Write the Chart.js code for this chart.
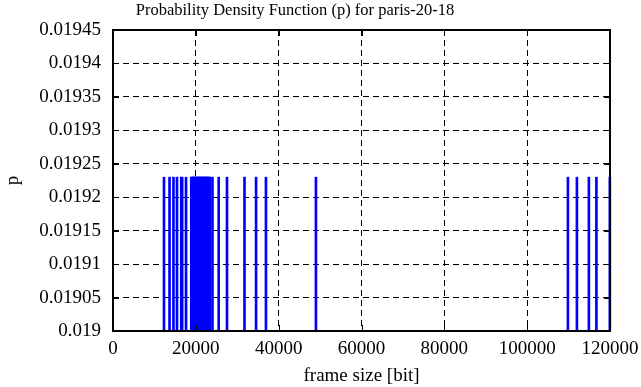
<!DOCTYPE html>
<html>
<head>
<meta charset="utf-8">
<script src="https://cdn.jsdelivr.net/npm/chart.js@4.4.1/dist/chart.umd.min.js"></script>
<style>
html,body{margin:0;padding:0;background:#fff;}
#wrap{width:641px;height:387px;}
</style>
</head>
<body>
<div id="wrap"><canvas id="c" width="641" height="387"></canvas></div>
<script>
const frameSizes = [
  12310, 13650, 14600, 15450, 16480, 16700, 17630,
  18900, 19050, 19210, 19330, 19480, 19620, 19710, 19880, 20040, 20150,
  20290, 20460, 20530, 20700, 20820, 20990, 21130, 21240, 21410, 21560,
  21690, 21800, 21970, 22110, 22250, 22380, 22520, 22640, 22810, 22950,
  23080, 23260, 23410,
  24020, 25520, 27520, 31750, 34540, 36930, 49000,
  109840, 112010, 114900, 116720, 119960
];
const probabilities = [
  0.01923, 0.01923, 0.01923, 0.01923, 0.01923, 0.01923, 0.01923,
  0.01923, 0.01923, 0.01923, 0.01923, 0.01923, 0.01923, 0.01923, 0.01923, 0.01923, 0.01923,
  0.01923, 0.01923, 0.01923, 0.01923, 0.01923, 0.01923, 0.01923, 0.01923, 0.01923, 0.01923,
  0.01923, 0.01923, 0.01923, 0.01923, 0.01923, 0.01923, 0.01923, 0.01923, 0.01923, 0.01923,
  0.01923, 0.01923, 0.01923,
  0.01923, 0.01923, 0.01923, 0.01923, 0.01923, 0.01923, 0.01923,
  0.01923, 0.01923, 0.01923, 0.01923, 0.01923
];
const xTickLabels = ['0', '20000', '40000', '60000', '80000', '100000', '120000'];
const yTickLabels = ['0.019', '0.01905', '0.0191', '0.01915', '0.0192', '0.01925', '0.0193', '0.01935', '0.0194', '0.01945'];

const chartTitle = 'Probability Density Function (p) for paris-20-18';
const xTitle = 'frame size [bit]';
const yTitle = 'p';

const FONT = "'Liberation Serif', 'Times New Roman', serif";

const points = frameSizes.map((x, i) => ({x: x, y: probabilities[i]}));

const frameTicks = {
  id: 'frameTicks',
  afterDraw(chart) {
    const ctx = chart.ctx;
    const a = chart.chartArea;
    const xs = chart.scales.x, ys = chart.scales.y;
    ctx.save();
    ctx.strokeStyle = '#000';
    ctx.lineWidth = 1;
    const L = 6;
    ctx.beginPath();
    xs.ticks.forEach(t => {
      const px = Math.round(xs.getPixelForValue(t.value)) + 0.5;
      ctx.moveTo(px, a.bottom); ctx.lineTo(px, a.bottom - L);
      ctx.moveTo(px, a.top); ctx.lineTo(px, a.top + L);
    });
    ys.ticks.forEach(t => {
      const py = Math.round(ys.getPixelForValue(t.value)) + 0.5;
      ctx.moveTo(a.left, py); ctx.lineTo(a.left + L, py);
      ctx.moveTo(a.right, py); ctx.lineTo(a.right - L, py);
    });
    ctx.stroke();
    ctx.lineWidth = 2;
    ctx.strokeRect(a.left, a.top, a.right - a.left, a.bottom - a.top);
    // chart title
    ctx.fillStyle = '#000';
    ctx.font = "16.5px " + FONT;
    ctx.textAlign = 'center';
    ctx.textBaseline = 'middle';
    ctx.fillText(chartTitle, 295, 11);
    ctx.restore();
  }
};

new Chart(document.getElementById('c'), {
  type: 'bar',
  data: {
    datasets: [{
      data: points,
      base: 0.019,
      backgroundColor: '#0000ff',
      borderWidth: 0,
      barThickness: 2,
      clip: {left: 3, right: 3, top: 0, bottom: 0}
    }]
  },
  options: {
    responsive: false,
    animation: false,
    events: [],
    layout: {padding: {left: 0, right: 31, top: 30, bottom: 0}},
    plugins: {
      legend: {display: false},
      tooltip: {enabled: false},
      title: {display: false}
    },
    scales: {
      x: {
        type: 'linear',
        min: 0,
        max: 120000,
        offset: false,
        afterFit(s) { s.height = 56; s.paddingLeft = 0; s.paddingRight = 0; },
        afterBuildTicks(s) {
          s.ticks = xTickLabels.map(l => ({value: Number(l)}));
        },
        ticks: {
          color: '#000',
          font: {family: FONT, size: 19},
          padding: 7,
          maxRotation: 0,
          autoSkip: false,
          callback: (v, i) => xTickLabels[i]
        },
        grid: {
          color: '#000',
          lineWidth: 1,
          drawTicks: false,
          offset: false
        },
        border: {display: false, dash: [6, 4]},
        title: {
          display: true,
          text: xTitle,
          color: '#000',
          font: {family: FONT, size: 19},
          padding: {top: 3, bottom: 0}
        }
      },
      y: {
        type: 'linear',
        min: 0.019,
        max: 0.01945,
        afterFit(s) { s.width = 113; s.paddingTop = 0; s.paddingBottom = 0; },
        afterBuildTicks(s) {
          s.ticks = yTickLabels.map(l => ({value: Number(l)}));
        },
        ticks: {
          color: '#000',
          font: {family: FONT, size: 19},
          padding: 12,
          autoSkip: false,
          callback: (v, i) => yTickLabels[i]
        },
        grid: {
          color: '#000',
          lineWidth: 1,
          drawTicks: false
        },
        border: {display: false, dash: [6, 4]},
        title: {
          display: true,
          text: yTitle,
          color: '#000',
          font: {family: FONT, size: 19},
          padding: {top: 2, bottom: 0}
        }
      }
    }
  },
  plugins: [frameTicks]
});
</script>
</body>
</html>
